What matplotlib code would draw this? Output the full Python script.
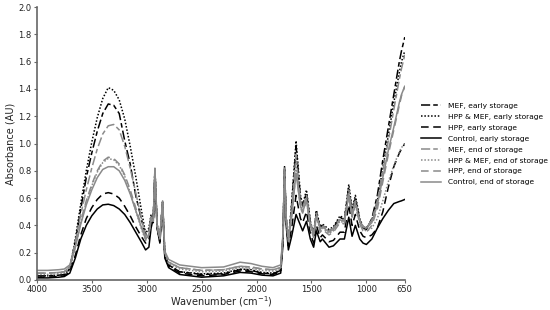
import matplotlib
matplotlib.use("Agg")
import matplotlib.pyplot as plt

wavenumber = [4000, 3900, 3800, 3750, 3700,
              3650, 3600, 3550, 3500, 3450, 3400, 3350, 3300, 3250, 3200, 3150, 3100, 3050, 3010,
              2980, 2960, 2940, 2925, 2905, 2880, 2855, 2835, 2800,
              2700, 2500, 2300, 2150, 2050, 1950, 1850, 1780,
              1760, 1745, 1730, 1710, 1680, 1640, 1600, 1580, 1545, 1510, 1480, 1455, 1420, 1400,
              1340, 1300, 1240, 1200, 1160, 1130, 1100, 1060, 1030, 1000,
              950, 900, 850, 800, 750, 700, 680, 650]

mef_early = [0.03, 0.03, 0.035, 0.04, 0.08,
             0.28, 0.52, 0.75, 0.93, 1.09, 1.22, 1.29, 1.28, 1.22, 1.02, 0.85, 0.62, 0.45, 0.33,
             0.36, 0.46, 0.44, 0.81, 0.40, 0.30, 0.57, 0.18, 0.11,
             0.06, 0.04, 0.045, 0.075, 0.07, 0.05, 0.045, 0.07,
             0.30, 0.82, 0.45, 0.28, 0.55, 0.98, 0.60, 0.54, 0.64, 0.42, 0.33, 0.50, 0.38, 0.40,
             0.36, 0.38, 0.46, 0.44, 0.68, 0.50, 0.60, 0.44, 0.38, 0.37,
             0.45, 0.62, 0.88, 1.12, 1.36, 1.60, 1.68, 1.78]

hpp_mef_early = [0.03, 0.03, 0.035, 0.04, 0.08,
                 0.30, 0.56, 0.80, 1.01, 1.19, 1.33, 1.41, 1.39, 1.32, 1.18, 0.98, 0.76, 0.52, 0.34,
                 0.38, 0.48, 0.45, 0.82, 0.41, 0.31, 0.58, 0.19, 0.11,
                 0.06, 0.045, 0.05, 0.08, 0.075, 0.055, 0.05, 0.07,
                 0.30, 0.83, 0.46, 0.29, 0.56, 1.02, 0.62, 0.55, 0.66, 0.43, 0.34, 0.51, 0.39, 0.41,
                 0.37, 0.39, 0.47, 0.45, 0.70, 0.52, 0.62, 0.45, 0.39, 0.38,
                 0.44, 0.58, 0.82, 1.06, 1.30, 1.52, 1.60, 1.68]

hpp_early = [0.02, 0.02, 0.025, 0.03, 0.06,
             0.18, 0.33, 0.45, 0.53, 0.59, 0.63, 0.64, 0.63, 0.60, 0.54, 0.47, 0.39, 0.32, 0.27,
             0.29, 0.42, 0.42, 0.78, 0.38, 0.28, 0.56, 0.17, 0.10,
             0.05, 0.03, 0.04, 0.065, 0.06, 0.045, 0.04, 0.06,
             0.28, 0.80, 0.42, 0.25, 0.38, 0.62, 0.45, 0.42, 0.50, 0.34, 0.27, 0.40, 0.31, 0.33,
             0.28, 0.29, 0.35, 0.35, 0.55, 0.40, 0.48, 0.36, 0.32, 0.31,
             0.33, 0.38, 0.50, 0.68, 0.83, 0.93, 0.96, 1.00]

control_early = [0.015, 0.015, 0.02, 0.025, 0.05,
                 0.16, 0.30, 0.40, 0.47, 0.52, 0.55, 0.555, 0.545, 0.52, 0.48, 0.42, 0.35, 0.28, 0.22,
                 0.24, 0.38, 0.45, 0.76, 0.38, 0.27, 0.55, 0.16, 0.09,
                 0.04, 0.02, 0.03, 0.055, 0.05, 0.035, 0.03, 0.05,
                 0.25, 0.76, 0.40, 0.22, 0.32, 0.48, 0.40, 0.36, 0.43, 0.30, 0.24, 0.36, 0.28, 0.30,
                 0.24, 0.25, 0.30, 0.30, 0.46, 0.32, 0.40, 0.30, 0.27, 0.26,
                 0.30, 0.38, 0.45, 0.51, 0.56, 0.575, 0.58, 0.59]

mef_end = [0.05, 0.05, 0.055, 0.06, 0.10,
           0.28, 0.48, 0.66, 0.82, 0.96, 1.07, 1.13, 1.14, 1.10, 0.98, 0.82, 0.64, 0.46, 0.32,
           0.35, 0.46, 0.44, 0.82, 0.40, 0.31, 0.58, 0.20, 0.13,
           0.09, 0.07, 0.075, 0.10, 0.095, 0.08, 0.075, 0.09,
           0.32, 0.82, 0.46, 0.30, 0.52, 0.92, 0.58, 0.53, 0.62, 0.42, 0.34, 0.49, 0.38, 0.40,
           0.36, 0.38, 0.45, 0.44, 0.66, 0.50, 0.58, 0.44, 0.39, 0.38,
           0.44, 0.58, 0.80, 1.02, 1.25, 1.47, 1.55, 1.65]

hpp_mef_end = [0.04, 0.04, 0.045, 0.05, 0.09,
               0.24, 0.42, 0.57, 0.69, 0.79, 0.86, 0.89, 0.88, 0.84, 0.76, 0.64, 0.51, 0.38, 0.29,
               0.33, 0.45, 0.43, 0.81, 0.39, 0.30, 0.57, 0.19, 0.12,
               0.08, 0.06, 0.065, 0.09, 0.085, 0.07, 0.065, 0.08,
               0.30, 0.81, 0.44, 0.28, 0.48, 0.85, 0.55, 0.50, 0.60, 0.40, 0.32, 0.47, 0.36, 0.38,
               0.34, 0.36, 0.43, 0.42, 0.62, 0.47, 0.55, 0.42, 0.37, 0.36,
               0.38, 0.45, 0.58, 0.72, 0.84, 0.94, 0.97, 1.00]

hpp_end = [0.05, 0.05, 0.055, 0.06, 0.10,
           0.25, 0.43, 0.58, 0.70, 0.80, 0.87, 0.90, 0.89, 0.85, 0.77, 0.66, 0.53, 0.40, 0.30,
           0.33, 0.45, 0.43, 0.80, 0.39, 0.30, 0.57, 0.20, 0.13,
           0.09, 0.07, 0.075, 0.10, 0.095, 0.08, 0.075, 0.09,
           0.31, 0.80, 0.44, 0.28, 0.46, 0.80, 0.53, 0.49, 0.58, 0.39, 0.31, 0.46, 0.35, 0.37,
           0.33, 0.35, 0.42, 0.41, 0.62, 0.46, 0.55, 0.41, 0.36, 0.35,
           0.40, 0.52, 0.72, 0.92, 1.10, 1.28, 1.35, 1.42]

control_end = [0.07, 0.07, 0.075, 0.08, 0.11,
               0.24, 0.41, 0.55, 0.66, 0.75, 0.81, 0.83, 0.83, 0.80, 0.73, 0.63, 0.51, 0.39, 0.30,
               0.33, 0.45, 0.43, 0.80, 0.40, 0.31, 0.58, 0.21, 0.15,
               0.11, 0.09, 0.095, 0.13, 0.12, 0.10, 0.09, 0.11,
               0.33, 0.80, 0.45, 0.30, 0.48, 0.78, 0.54, 0.50, 0.58, 0.40, 0.33, 0.47, 0.37, 0.39,
               0.35, 0.37, 0.44, 0.43, 0.62, 0.47, 0.56, 0.43, 0.39, 0.38,
               0.42, 0.55, 0.75, 0.95, 1.12, 1.30, 1.36, 1.42]

labels = ["MEF, early storage", "HPP & MEF, early storage", "HPP, early storage",
          "Control, early storage", "MEF, end of storage", "HPP & MEF, end of storage",
          "HPP, end of storage", "Control, end of storage"]
series = [mef_early, hpp_mef_early, hpp_early, control_early,
          mef_end, hpp_mef_end, hpp_end, control_end]

dash_dot = (6, 2, 3, 2)
dotted = (1, 1.2)
dashed = (5, 3)
styles = [("black", dash_dot), ("black", dotted), ("black", dashed), ("black", None),
          ("#8a8a8a", dash_dot), ("#8a8a8a", dotted), ("#8a8a8a", dashed), ("#8a8a8a", None)]

fig = plt.figure(figsize=(5.5, 3.1), dpi=100)
ax = fig.add_axes([0.067, 0.097, 0.669, 0.88])

for y, lab, (col, dash) in zip(series, labels, styles):
    line, = ax.plot(wavenumber, y, color=col, linewidth=1.1, label=lab)
    if dash is not None:
        line.set_dashes(dash)

ax.set_xlim(4000, 650)
ax.set_ylim(0, 2.0)
ax.set_xticks([4000, 3500, 3000, 2500, 2000, 1500, 1000, 650])
ax.set_yticks([0.0, 0.2, 0.4, 0.6, 0.8, 1.0, 1.2, 1.4, 1.6, 1.8, 2.0])
ax.set_yticklabels([f"{v:.1f}" for v in ax.get_yticks()])

for side in ["top", "right"]:
    ax.spines[side].set_visible(False)
for side in ["left", "bottom"]:
    ax.spines[side].set_color("#666666")
    ax.spines[side].set_linewidth(1.2)
ax.tick_params(colors="#666666", labelcolor="#222222", labelsize=6, length=2.5, width=0.8, pad=1.5)

ax.set_xlabel("Wavenumber (cm$^{-1}$)", fontsize=7, color="#222222", labelpad=0)
ax.set_ylabel("Absorbance (AU)", fontsize=7, color="#222222", labelpad=2)

fig.legend(loc="upper left", bbox_to_anchor=(0.760, 0.678), frameon=False,
           fontsize=5.4, handlelength=2.7, handletextpad=0.85, labelspacing=0.62,
           borderaxespad=0)

fig.savefig("out.png", dpi=100)
